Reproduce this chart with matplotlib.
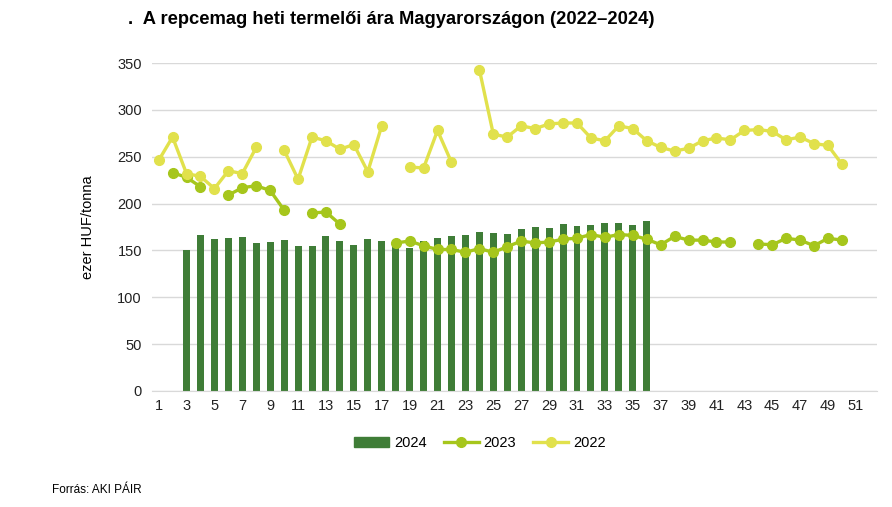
import numpy as np
import matplotlib
matplotlib.use("Agg")
import matplotlib.pyplot as plt
from matplotlib.patches import Patch
from matplotlib.lines import Line2D

nan = np.nan
weeks = list(range(1, 53))
tick_labels = [str(w) for w in range(1, 52, 2)]

# 2024 bars (weeks 1-52)
y2024 = [nan, nan, 150, 167, 162, 163, 164, 158, 159, 161, 155, 155, 165, 160, 156, 162,
         160, 158, 153, 160, 163, 165, 166, 170, 169, 168, 173, 175, 174, 178, 176, 177,
         179, 179, 177, 181] + [nan] * 16

y2023 = [nan, 233, 228, 218, nan, 209, 217, 219, 214, 193, nan, 190, 191, 178, nan, nan,
         nan, 158, 160, 155, 151, 151, 148, 152, 148, 154, 160, 158, 159, 162, 163, 167,
         164, 167, 166, 162, 156, 165, 161, 161, 159, 159, nan, 157, 156, 163, 161, 155,
         163, 161, nan, nan]

y2022 = [246, 271, 232, 229, 216, 235, 232, 260, nan, 257, 226, 271, 267, 258, 263, 234,
         283, nan, 239, 238, 278, 244, nan, 343, 274, 271, 283, 280, 285, 286, 286, 270,
         267, 283, 280, 267, 260, 256, 259, 267, 270, 268, 278, 279, 277, 268, 271, 264,
         262, 242, nan, nan]

c2024 = "#3f7d37"
c2023 = "#a6c61c"
c2022 = "#e1e14c"

plt.rcParams['font.family'] = ['Liberation Sans', 'DejaVu Sans']

fig = plt.figure(figsize=(8.92, 5.07), dpi=100)
ax = fig.add_axes([0.170, 0.2288, 0.813, 0.6469])

ax.bar(weeks, y2024, width=0.5, color=c2024, zorder=2)
ax.plot(weeks, y2023, color=c2023, lw=2.4, marker='o', ms=7, zorder=3)
ax.plot(weeks, y2022, color=c2022, lw=2.4, marker='o', ms=7, zorder=3)

ax.set_xlim(0.5, 52.5)
ax.set_ylim(0, 350)
ax.set_yticks(range(0, 351, 50))
ax.set_xticks(range(1, 52, 2))
ax.set_xticklabels(tick_labels)
ax.grid(axis='y', color='#d9d9d9', lw=1, zorder=0)
ax.set_axisbelow(True)
for s in ['top', 'right', 'left']:
    ax.spines[s].set_visible(False)
ax.spines['bottom'].set_color('#d9d9d9')
ax.tick_params(axis='both', length=0, labelsize=10.5, colors='#222222')
ax.tick_params(axis='x', pad=6)
ax.tick_params(axis='y', pad=7)
ax.set_ylabel("ezer HUF/tonna", fontsize=10.5, labelpad=16)

fig.text(0.143, 0.962, ".  A repcemag heti termelői ára Magyarországon (2022–2024)",
         fontsize=13.2, fontweight='bold', ha='left', va='center')
fig.text(0.058, 0.033, "Forrás: AKI PÁIR", fontsize=8.5, ha='left', va='center')

handles = [Patch(color=c2024),
           Line2D([], [], color=c2023, lw=2.4, marker='o', ms=7),
           Line2D([], [], color=c2022, lw=2.4, marker='o', ms=7)]
fig.legend(handles, ["2024", "2023", "2022"], loc='center', bbox_to_anchor=(0.538, 0.126),
           ncol=3, frameon=False, fontsize=10.5, handlelength=2.4, columnspacing=1.2,
           handletextpad=0.3)

fig.savefig("out.png", dpi=100)
